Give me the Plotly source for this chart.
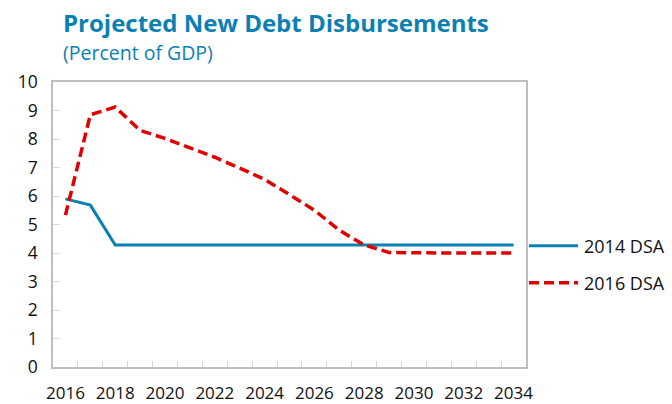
import plotly.graph_objects as go

years = list(range(2016, 2035))
dsa_2014 = [5.90, 5.68, 4.28, 4.28, 4.28, 4.28, 4.29, 4.28, 4.29, 4.29, 4.28, 4.28, 4.28, 4.28, 4.28, 4.28, 4.28, 4.28, 4.28]
dsa_2016 = [5.33, 8.85, 9.12, 8.30, 8.02, 7.70, 7.36, 6.98, 6.58, 6.05, 5.50, 4.80, 4.28, 4.02, 4.00, 4.00, 4.00, 4.00, 4.00]
x_labels = [str(y) for y in range(2016, 2035, 2)]
y_ticks = list(range(0, 11))
series_names = ["2014 DSA", "2016 DSA"]

title_text = "Projected New Debt Disbursements"
subtitle_text = "(Percent of GDP)"

BLUE = "#0b80b3"
RED = "#e00000"
FONT = "Open Sans"
RED_DASH = "10px,5px"

# plot area geometry (px)
L, R, T, B = 53, 526, 82, 367
PW, PH = R - L, B - T

fig = go.Figure()
fig.add_trace(go.Scatter(x=years, y=dsa_2014, mode="lines", name=series_names[0],
                         line=dict(color=BLUE, width=3), showlegend=False))
fig.add_trace(go.Scatter(x=years, y=dsa_2016, mode="lines", name=series_names[1],
                         line=dict(color=RED, width=3.5, dash=RED_DASH), showlegend=False))

def px_x(v):
    return (v - L) / PW

def px_y(v):
    return (B - v) / PH

# custom legend on the right
legend_rows = [(series_names[0], BLUE, "solid", 3, 245.7),
               (series_names[1], RED, RED_DASH, 3.5, 282.7)]
shapes = []
annotations = []
for name, color, dash, w, ypx in legend_rows:
    shapes.append(dict(type="line", xref="paper", yref="paper",
                       x0=px_x(529), x1=px_x(578), y0=px_y(ypx), y1=px_y(ypx),
                       line=dict(color=color, width=w, dash=dash)))
    annotations.append(dict(text=name, xref="paper", yref="paper",
                            x=px_x(582), y=px_y(ypx), xanchor="left", yanchor="middle",
                            showarrow=False, font=dict(family=FONT, size=18, color="#111111")))

annotations += [
    dict(text="<b>" + title_text + "</b>", xref="paper", yref="paper",
         x=px_x(61), y=px_y(22), xanchor="left", yanchor="middle",
         showarrow=False, font=dict(family=FONT, size=24, color=BLUE)),
    dict(text=subtitle_text, xref="paper", yref="paper",
         x=px_x(61), y=px_y(53), xanchor="left", yanchor="middle",
         showarrow=False, font=dict(family=FONT, size=19.5, color=BLUE)),
]

fig.update_layout(
    width=672, height=404,
    margin=dict(l=L, r=672 - R, t=T, b=404 - B, autoexpand=False),
    paper_bgcolor="white", plot_bgcolor="white",
    font=dict(family=FONT, size=17, color="#111111"),
    showlegend=False,
    xaxis=dict(
        range=[2015.5, 2034.5], tickmode="array",
        tickvals=list(range(2016, 2035, 2)), ticktext=x_labels,
        ticks="", showgrid=False, zeroline=False, automargin=False,
        showline=True, linecolor="#bfbfbf", linewidth=1.5, mirror=True,
        ticklabelstandoff=10,
        minor=dict(tickvals=[y + 0.5 for y in range(2016, 2034)], ticks="inside",
                   ticklen=6, tickcolor="#d9d9d9", tickwidth=1, showgrid=False),
        tickfont=dict(size=17),
    ),
    yaxis=dict(
        range=[0, 10], tickmode="array", tickvals=y_ticks,
        ticks="inside", ticklen=7, tickcolor="#d9d9d9", tickwidth=1,
        showgrid=False, zeroline=False, automargin=False,
        showline=True, linecolor="#bfbfbf", linewidth=1.5, mirror=True,
        ticklabelstandoff=10,
        tickfont=dict(size=17.5),
    ),
    shapes=shapes,
    annotations=annotations,
)

fig.write_html("out.html")
